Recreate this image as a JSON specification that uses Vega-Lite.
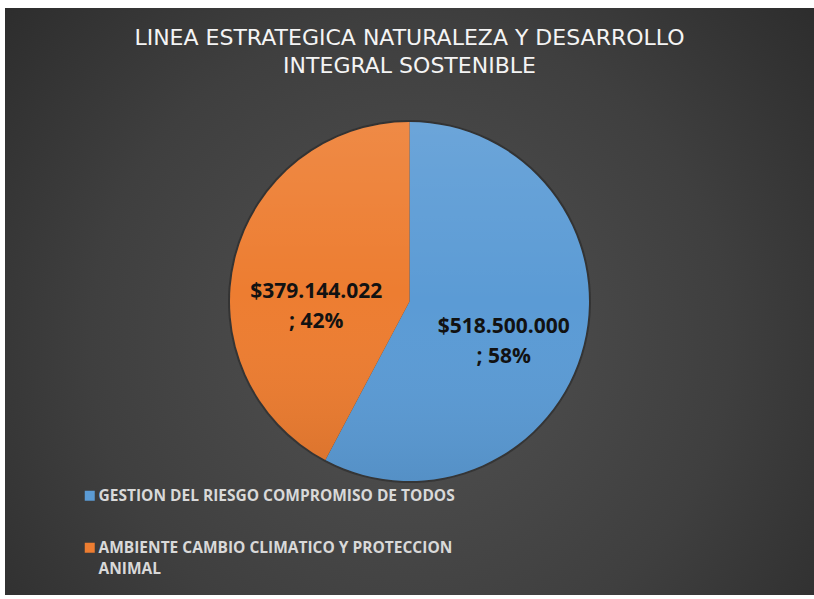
{
  "$schema": "https://vega.github.io/schema/vega-lite/v6.json",
  "width": 814,
  "height": 599,
  "autosize": {"type": "fit", "contains": "padding"},
  "padding": {"left": 5, "top": 8, "right": 0, "bottom": 4},
  "background": "#ffffff",
  "title": {
    "text": ["LINEA ESTRATEGICA NATURALEZA Y DESARROLLO", "INTEGRAL SOSTENIBLE"],
    "font": "DejaVu Sans",
    "fontSize": 22,
    "fontWeight": "normal",
    "color": "#f4f4f4",
    "lineHeight": 28,
    "anchor": "middle",
    "baseline": "top",
    "offset": -70
  },
  "data": {
    "values": [
      {"category": "GESTION DEL RIESGO COMPROMISO DE TODOS", "value": 518500000, "label": "$518.500.000\n; 58%"},
      {"category": "AMBIENTE CAMBIO CLIMATICO Y PROTECCION ANIMAL", "value": 379144022, "label": "$379.144.022\n; 42%"}
    ]
  },
  "layer": [
    {
      "mark": {
        "type": "rect",
        "fill": {
          "gradient": "radial",
          "x1": 0.5, "y1": 0.55, "r1": 0,
          "x2": 0.5, "y2": 0.55, "r2": 0.72,
          "stops": [
            {"offset": 0, "color": "#525252"},
            {"offset": 0.55, "color": "#3f3f3f"},
            {"offset": 1, "color": "#282828"}
          ]
        }
      },
      "encoding": {}
    },
    {
      "mark": {"type": "arc", "outerRadius": 181.5, "fill": "#1c1c1c", "opacity": 0.45},
      "encoding": {
        "theta": {"field": "value", "type": "quantitative", "stack": true},
        "detail": {"field": "category"},
        "order": {"field": "value", "sort": "descending"}
      }
    },
    {
      "mark": {"type": "arc", "outerRadius": 179.5},
      "encoding": {
        "theta": {"field": "value", "type": "quantitative", "stack": true},
        "color": {
          "field": "category",
          "type": "nominal",
          "sort": ["GESTION DEL RIESGO COMPROMISO DE TODOS", "AMBIENTE CAMBIO CLIMATICO Y PROTECCION ANIMAL"],
          "scale": {
            "domain": ["GESTION DEL RIESGO COMPROMISO DE TODOS", "AMBIENTE CAMBIO CLIMATICO Y PROTECCION ANIMAL"],
            "range": ["#5b9bd5", "#ed7d31"]
          },
          "legend": {
            "orient": "none",
            "legendX": 77,
            "legendY": 480,
            "title": null,
            "symbolType": "square",
            "symbolSize": 100,
            "symbolStrokeWidth": 0,
            "labelFont": "Open Sans",
            "labelFontSize": 15.5,
            "labelFontWeight": "bold",
            "labelColor": "#d9d9d9",
            "labelLimit": 0,
            "labelOffset": 1,
            "labelBaseline": "top",
            "rowPadding": 35,
            "labelExpr": "datum.label == 'AMBIENTE CAMBIO CLIMATICO Y PROTECCION ANIMAL' ? ['AMBIENTE CAMBIO CLIMATICO Y PROTECCION', 'ANIMAL'] : datum.label",
            "encode": {
              "labels": {"update": {"dy": {"value": -7}, "lineHeight": {"value": 21}}}
            }
          }
        },
        "order": {"field": "value", "sort": "descending"}
      }
    },
    {
      "mark": {
        "type": "arc",
        "outerRadius": 179.5,
        "fill": {
          "gradient": "linear",
          "x1": 0, "y1": 0, "x2": 0, "y2": 1,
          "stops": [
            {"offset": 0, "color": "rgba(255,255,255,0.10)"},
            {"offset": 0.5, "color": "rgba(255,255,255,0.0)"},
            {"offset": 1, "color": "rgba(0,0,0,0.07)"}
          ]
        }
      },
      "encoding": {
        "theta": {"field": "value", "type": "quantitative", "stack": true},
        "detail": {"field": "category"},
        "order": {"field": "value", "sort": "descending"}
      }
    },
    {
      "mark": {
        "type": "text",
        "radius": 95,
        "font": "Open Sans",
        "fontSize": 21,
        "fontWeight": "bold",
        "fill": "#121212",
        "lineBreak": "\n",
        "lineHeight": 30,
        "align": "center",
        "baseline": "middle",
        "dx": {"expr": "datum.value > 400000000 ? 2 : -1"},
        "dy": {"expr": "datum.value > 400000000 ? 3 : 13"}
      },
      "encoding": {
        "theta": {"field": "value", "type": "quantitative", "stack": true},
        "detail": {"field": "category"},
        "order": {"field": "value", "sort": "descending"},
        "text": {"field": "label"}
      }
    }
  ],
  "config": {
    "view": {"stroke": null}
  }
}
